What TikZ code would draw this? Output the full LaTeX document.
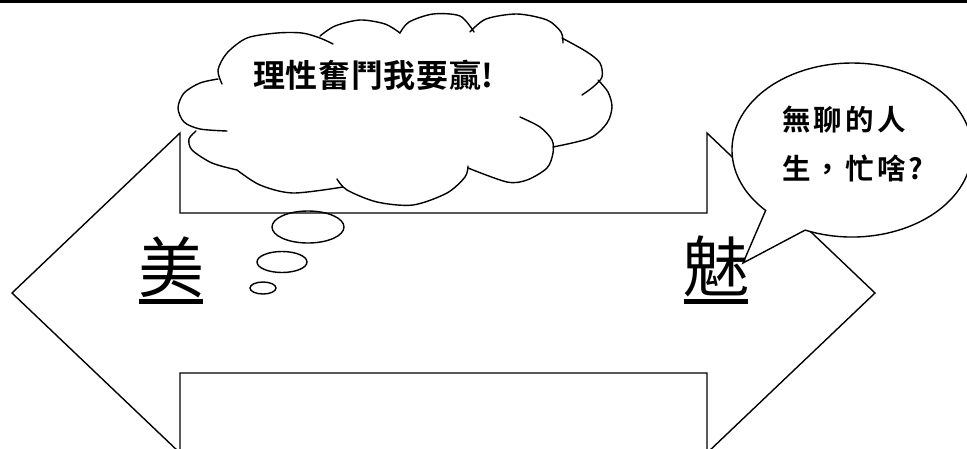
\documentclass[tikz,border=0pt]{standalone}
\usepackage{fontspec}
\newfontfamily\cjk{Noto Sans CJK TC}
\newfontfamily\cjkb{Noto Sans CJK TC Bold}
\tikzset{
  outline/.style={line width=1.4pt, line join=miter},
  bumpline/.style={line width=1.4pt, line cap=round},
  bigchar/.style={inner sep=0pt, font=\cjk\fontsize{66}{66}\selectfont},
  thinktext/.style={inner sep=0pt, anchor=west, font=\cjkb\fontsize{32}{32}\selectfont\addfontfeature{LetterSpace=2}},
  saytext/.style={inner sep=0pt, anchor=west, font=\cjkb\fontsize{28.5}{28.5}\selectfont\addfontfeature{LetterSpace=11}},
}
\begin{document}
\begin{tikzpicture}[x=1pt,y=-1pt]
\useasboundingbox (0,0) rectangle (967,448);
\clip (0,0) rectangle (967,448);
% top rule
\fill (0,0) rectangle (967,3);
% double arrow
\coordinate (a1) at (180,213);
\coordinate (a2) at (180,133);
\coordinate (ltip) at (12,293);
\coordinate (a3) at (180,453);
\coordinate (a4) at (180,373);
\coordinate (a5) at (707,373);
\coordinate (a6) at (707,453);
\coordinate (rtip) at (875,293);
\coordinate (a7) at (707,133);
\coordinate (a8) at (707,213);
\draw[outline] (a1) -- (a2) -- (ltip) -- (a3) -- (a4) -- (a5) -- (a6) -- (rtip) -- (a7) -- (a8) -- cycle;
% cloud bumps
\draw[bumpline] plot[smooth] coordinates {(237,170) (212,163) (192,150) (189,139) (196,131)};
\draw[bumpline] plot[smooth] coordinates {(227,131) (200,129) (184,122) (178,108) (184,93) (200,83) (218,79)};
\draw[bumpline] plot[smooth] coordinates {(222,84) (218,70) (227,53) (247,38) (277,33) (302,33) (320,38) (333,44)};
\draw[bumpline] plot[smooth] coordinates {(320,36) (335,26) (360,20) (385,24) (400,33)};
\draw[bumpline] plot[smooth] coordinates {(400,33) (409,22) (433,14) (460,16) (474,32)};
\draw[bumpline] plot[smooth] coordinates {(470,32) (486,19) (517,14) (547,20) (561,32) (563,43)};
\draw[bumpline] plot[smooth] coordinates {(562,38) (587,52) (600,63) (602,77) (593,87) (582,95)};
\draw[bumpline] plot[smooth] coordinates {(598,80) (608,92) (612,107) (607,123) (590,138) (553,147)};
\draw[bumpline] plot[smooth] coordinates {(520,117) (540,127) (552,140) (553,153) (547,168) (527,180) (507,182) (468,168)};
\draw[bumpline] plot[smooth] coordinates {(468,166) (465,177) (447,193) (413,205) (377,202) (347,190) (337,179)};
\draw[bumpline] plot[smooth] coordinates {(237,170) (260,185) (293,193) (343,187)};
% thought bubbles
\draw[bumpline] (308,227) ellipse[x radius=36pt, y radius=16pt];
\draw[bumpline] (282,262) ellipse[x radius=25pt, y radius=10.5pt];
\draw[bumpline] (263,288) ellipse[x radius=13pt, y radius=6pt];
% speech bubble
\draw[outline, fill=white] (805.1,230.1) arc[start angle=247, end angle=584, x radius=120pt, y radius=87pt] -- (743,263) -- cycle;
% texts
\node[thinktext] (think) at (253,75) {理性奮鬥我要贏!};
\node[saytext] (say1) at (782,120) {無聊的人};
\node[saytext] (say2) at (782,168) {生，忙啥?};
\node[bigchar] (mei) at (171,267) {美};
\node[bigchar] (mei2) at (716,266) {魅};
\fill (139,298.5) rectangle (203,303.5);
\fill (684,298.5) rectangle (748,303.5);
\end{tikzpicture}
\end{document}
